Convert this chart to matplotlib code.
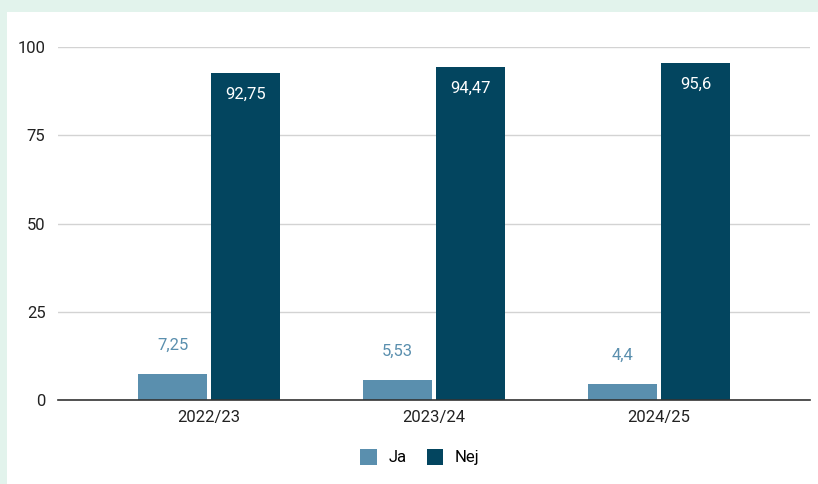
import matplotlib.pyplot as plt
import numpy as np

seasons = ['2022/23', '2023/24', '2024/25']
ja = [7.25, 5.53, 4.4]
nej = [92.75, 94.47, 95.6]
ja_labels = ['7,25', '5,53', '4,4']
nej_labels = ['92,75', '94,47', '95,6']
yticks = [0, 25, 50, 75, 100]

JA_COLOR = '#5a8fae'
NEJ_COLOR = '#03455f'

plt.rcParams['font.family'] = ['Roboto', 'DejaVu Sans']

fig = plt.figure(figsize=(8.18, 4.84), dpi=100)
fig.patch.set_facecolor('#e2f3ec')
# white card behind the chart
fig.patches.append(plt.Rectangle((7 / 818, 0), 1, 1 - 12 / 484,
                                 transform=fig.transFigure,
                                 facecolor='white', edgecolor='none', zorder=-10))

ax = fig.add_axes([58 / 818, 84 / 484, 752 / 818, 353 / 484])
ax.set_facecolor('white')

x = np.arange(len(seasons))
w = 0.31
gap = 0.007
bj = ax.bar(x - w / 2 - gap, ja, w, color=JA_COLOR, label='Ja', zorder=3)
bn = ax.bar(x + w / 2 + gap, nej, w, color=NEJ_COLOR, label='Nej', zorder=3)

for rect, txt in zip(bj, ja_labels):
    ax.annotate(txt, (rect.get_x() + rect.get_width() / 2, rect.get_height()),
                xytext=(0, 21), textcoords='offset points', ha='center',
                va='center', color=JA_COLOR, fontsize=12)
for rect, txt in zip(bn, nej_labels):
    ax.annotate(txt, (rect.get_x() + rect.get_width() / 2, rect.get_height()),
                xytext=(0, -16), textcoords='offset points', ha='center',
                va='center', color='white', fontsize=12)

ax.set_xlim(-0.671, 2.671)
ax.set_ylim(0, 100)
ax.set_yticks(yticks)
ax.set_xticks(x)
ax.set_xticklabels(seasons)
ax.tick_params(axis='both', length=0, labelsize=12, colors='#222222')
ax.tick_params(axis='y', pad=9)
ax.tick_params(axis='x', pad=7)
ax.grid(axis='y', color='#d3d3d3', lw=1, zorder=0)
for s in ['top', 'right', 'left']:
    ax.spines[s].set_visible(False)
ax.spines['bottom'].set_color('#333333')
ax.spines['bottom'].set_linewidth(1.2)
ax.spines['bottom'].set_zorder(4)

ax.legend(loc='center', bbox_to_anchor=(420 / 818, 1 - 457 / 484),
          bbox_transform=fig.transFigure, ncol=2, frameon=False,
          fontsize=12, handlelength=1.0, handleheight=1.1,
          columnspacing=1.2, handletextpad=0.7)

fig.savefig('out.png', dpi=100, facecolor=fig.get_facecolor())
